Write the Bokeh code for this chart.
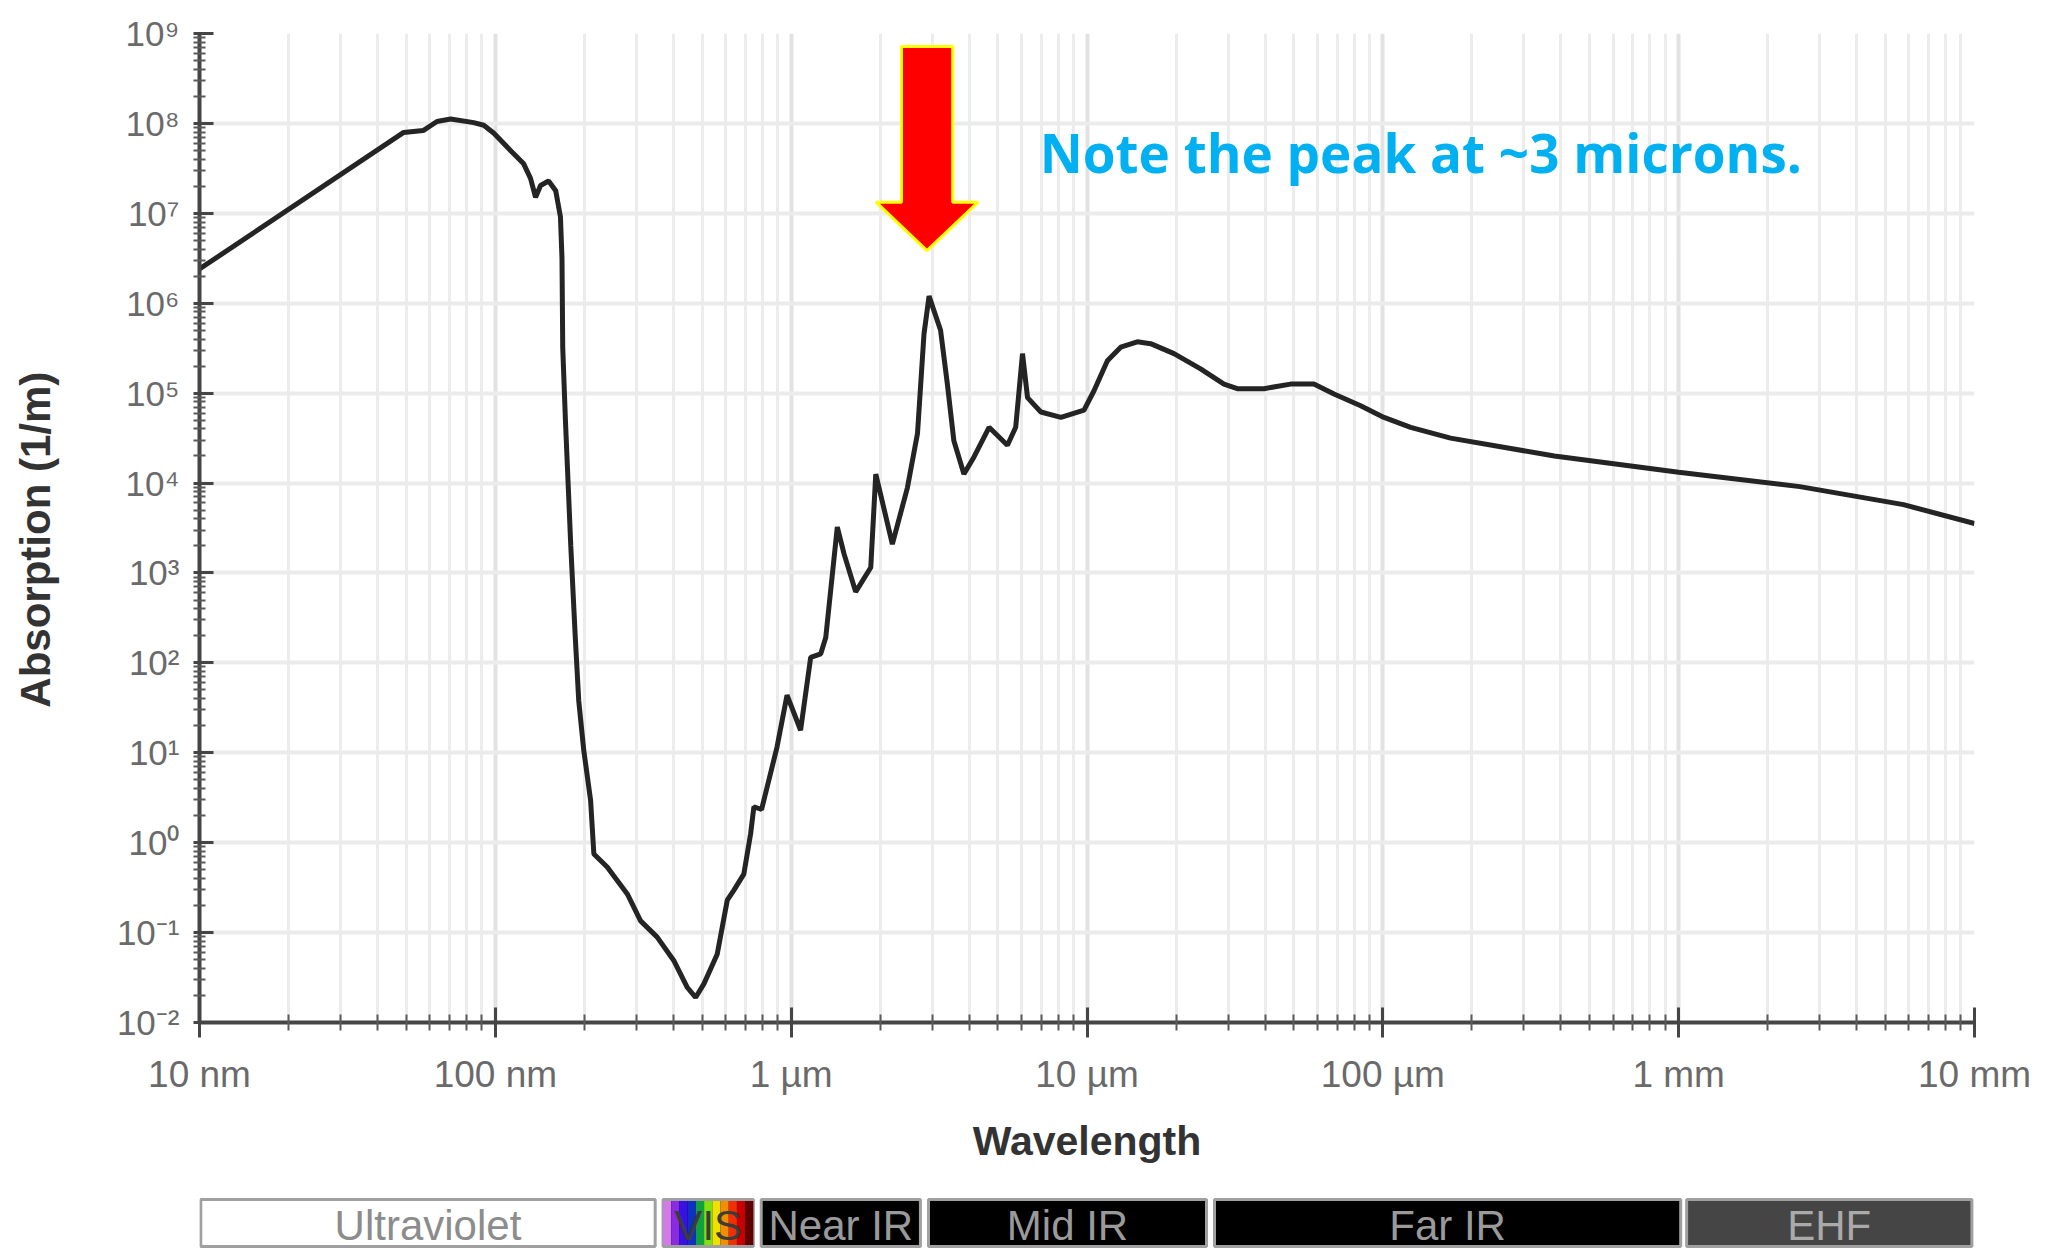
import math
from bokeh.plotting import figure
from bokeh.models import Range1d, FixedTicker, CustomJSTickFormatter
from bokeh.layouts import column
from bokeh.embed import file_html
from bokeh.resources import INLINE
from bokeh.core.properties import value

# ---- data ----
wavelength_nm = [10, 49, 57, 63.5, 70.6, 84.5, 91.4, 98.9, 112.5, 124.7, 131.5, 136.8,
                 142.2, 151.4, 160, 166, 168, 169, 172.6, 179.9, 186.2, 191.4, 199,
                 209.9, 215.3, 238.8, 279.3, 309.7, 352.4, 400.9, 445.7, 475.3, 507,
                 562.3, 608.1, 639.7, 691.8, 729.5, 748.2, 794.3, 895.4, 968.3, 1076,
                 1164, 1259, 1309, 1432, 1510, 1652, 1858, 1932, 2198, 2472, 2673,
                 2812, 2925, 3199, 3373, 3548, 3837, 4150, 4667, 5383, 5741, 6053,
                 6295, 6982, 8166, 9772, 10570, 11720, 13000, 14790, 16410, 19680,
                 24210, 29040, 32210, 39630, 48750, 58480, 68390, 84140, 100900,
                 124200, 169400, 380200, 1000000, 2570000, 5754000, 10000000]
absorption = [2.4e6, 7.94e7, 8.32e7, 1.05e8, 1.12e8, 1.02e8, 9.55e7, 7.76e7, 5.01e7,
              3.55e7, 2.45e7, 1.51e7, 2.04e7, 2.29e7, 1.78e7, 9.12e6, 3.16e6, 3.16e5,
              4.9e4, 2.0e3, 2.0e2, 38, 10.7, 2.95, 0.75, 0.537, 0.269, 0.135, 0.089,
              0.049, 0.0245, 0.019, 0.0269, 0.0575, 0.229, 0.295, 0.447, 1.26, 2.51,
              2.34, 11.5, 43.7, 17.8, 115, 126, 191, 3240, 1620, 617, 1150, 1.26e4,
              2090, 8910, 3.55e4, 4.57e5, 1.2e6, 5.01e5, 1.26e5, 2.95e4, 1.26e4,
              1.95e4, 4.17e4, 2.63e4, 4.17e4, 2.75e5, 8.91e4, 6.17e4, 5.37e4, 6.46e4,
              1.07e5, 2.29e5, 3.24e5, 3.72e5, 3.55e5, 2.75e5, 1.86e5, 1.26e5, 1.12e5,
              1.12e5, 1.26e5, 1.26e5, 9.77e4, 7.24e4, 5.37e4, 4.17e4, 3.16e4, 2.0e4,
              1.32e4, 9.12e3, 5.75e3, 3.55e3]

x_tick_values = [10, 100, 1000, 10000, 100000, 1000000, 10000000]
x_tick_labels = ["10 nm", "100 nm", "1 µm", "10 µm", "100 µm", "1 mm", "10 mm"]
y_exponents = list(range(-2, 10))

band_names = ["Ultraviolet", "VIS", "Near IR", "Mid IR", "Far IR", "EHF"]
band_start_nm = [10.1, 369, 792, 2912, 26980, 1064000]
band_end_nm = [347, 745, 2735, 25350, 1016000, 9800000]
band_fill = ["#ffffff", "#000000", "#000000", "#000000", "#000000", "#454545"]
band_text_color = ["#8c8c8c", "#3c3c3c", "#9a9a9a", "#9a9a9a", "#9a9a9a", "#aaaaaa"]
vis_colors = ["#d27ae8", "#8a2be2", "#3a10e8", "#1030c0", "#10a040", "#80e010",
              "#f0e000", "#f09000", "#f03000", "#c80000", "#600000"]

annotation_text = "Note the peak at ~3 microns."
arrow_x_nm = [2360, 3516, 3516, 4285, 2877, 1936, 2360]
arrow_y = [7.16e8, 7.16e8, 1.33e7, 1.33e7, 3.85e6, 1.33e7, 1.33e7]

# ---- main chart ----
L, R, T = 199, 72, 33
FW, FH = 1775, 989
W = L + FW + R
H = 1195
x_rng = Range1d(10, 1e7)
p = figure(width=W, height=H, x_axis_type="log", y_axis_type="log",
           x_range=x_rng, y_range=Range1d(1e-2, 1e9),
           output_backend="svg", toolbar_location=None,
           min_border_left=L, min_border_right=R, min_border_top=T,
           min_border_bottom=H - T - FH)
p.outline_line_color = None
p.background_fill_color = "white"

minor_x = [m * 10 ** e for e in range(1, 7) for m in range(2, 10)]
minor_y = [m * 10.0 ** e for e in range(-2, 9) for m in range(2, 10)]
p.xaxis.ticker = FixedTicker(ticks=x_tick_values, minor_ticks=minor_x)
p.yaxis.ticker = FixedTicker(ticks=[10.0 ** e for e in y_exponents], minor_ticks=minor_y)

p.xaxis.formatter = CustomJSTickFormatter(args=dict(labels=x_tick_labels), code="""
    const i = Math.round(Math.log10(tick)) - 1;
    return labels[i];
""")
p.yaxis.formatter = CustomJSTickFormatter(code="""
    const e = Math.round(Math.log10(tick));
    const sup = {'-':'\u207b','0':'\u2070','1':'\u00b9','2':'\u00b2','3':'\u00b3','4':'\u2074',
                 '5':'\u2075','6':'\u2076','7':'\u2077','8':'\u2078','9':'\u2079'};
    return '10' + String(e).split('').map(c => sup[c]).join('');
""")

p.xgrid.ticker = p.xaxis.ticker
p.ygrid.ticker = p.yaxis.ticker
p.xgrid.grid_line_color = "#e2e2e2"
p.xgrid.grid_line_width = 4
p.xgrid.minor_grid_line_color = "#ececec"
p.xgrid.minor_grid_line_width = 3
p.ygrid.grid_line_color = "#ebebeb"
p.ygrid.grid_line_width = 4

for ax in (p.xaxis, p.yaxis):
    ax.axis_line_color = "#454545"
    ax.axis_line_width = 4
    ax.major_tick_line_color = "#454545"
    ax.major_tick_line_width = 3
    ax.minor_tick_line_color = "#5a5a5a"
    ax.minor_tick_line_width = 2
    ax.major_label_text_font = "Liberation Sans"
    ax.major_label_text_color = "#6a6a6a"
    ax.axis_label_text_font = "Liberation Sans"
    ax.axis_label_text_font_style = "bold"
    ax.axis_label_text_color = "#333333"

p.xaxis.major_tick_in = 15
p.xaxis.major_tick_out = 15
p.xaxis.minor_tick_in = 8
p.xaxis.minor_tick_out = 8
p.xaxis.major_label_text_font_size = "37px"
p.xaxis.major_label_standoff = 16
p.xaxis.axis_label = "Wavelength"
p.xaxis.axis_label_text_font_size = "41px"
p.xaxis.axis_label_standoff = 20

p.yaxis.major_tick_in = 14
p.yaxis.major_tick_out = 6
p.yaxis.minor_tick_in = 6
p.yaxis.minor_tick_out = 6
p.yaxis.major_label_text_font_size = "35px"
p.yaxis.major_label_standoff = 14
p.yaxis.axis_label = "Absorption (1/m)\u00a0\u00a0"
p.yaxis.axis_label_text_font_size = "42px"
p.yaxis.axis_label_standoff = 55

p.line(wavelength_nm, absorption, line_width=5, line_color="#242424")

p.patch(arrow_x_nm, arrow_y, fill_color="#ff0000", line_color="#ffff00", line_width=3)
p.text(x=[6918], y=[4.8e7], text=[annotation_text], text_font=value("Open Sans"),
       text_font_style="bold", text_font_size="53px", text_color="#00b0f0",
       text_baseline="alphabetic", text_align="left")

# ---- band bar ----
BH = 1248 - H
b = figure(width=W, height=BH, x_axis_type="log", x_range=x_rng,
           y_range=Range1d(0, 1), output_backend="svg", toolbar_location=None,
           x_axis_location=None, y_axis_location=None,
           min_border_left=L, min_border_right=R, min_border_top=0, min_border_bottom=0)
b.grid.visible = False
b.outline_line_color = None

top = 1 - 4 / BH
bot = 2 / BH
b.quad(left=band_start_nm, right=band_end_nm, bottom=bot, top=top,
       fill_color=band_fill, line_color="#a0a0a0", line_width=3)
# rainbow strip for the visible band
v0, v1 = band_start_nm[1], band_end_nm[1]
n = len(vis_colors)
lg0, lg1 = math.log10(v0), math.log10(v1)
edges = [10 ** (lg0 + (lg1 - lg0) * k / n) for k in range(n + 1)]
b.quad(left=edges[:-1], right=edges[1:], bottom=bot + 0.03, top=top - 0.03,
       fill_color=vis_colors, line_color=None)

centers = [math.sqrt(s * e) for s, e in zip(band_start_nm, band_end_nm)]
b.text(x=centers, y=[0.43] * len(centers), text=band_names,
       text_font=value("Liberation Sans"), text_font_size="42px",
       text_color=band_text_color, text_align="center", text_baseline="middle")

layout = column(p, b, spacing=0)
open("out.html", "w").write(file_html(layout, INLINE))
